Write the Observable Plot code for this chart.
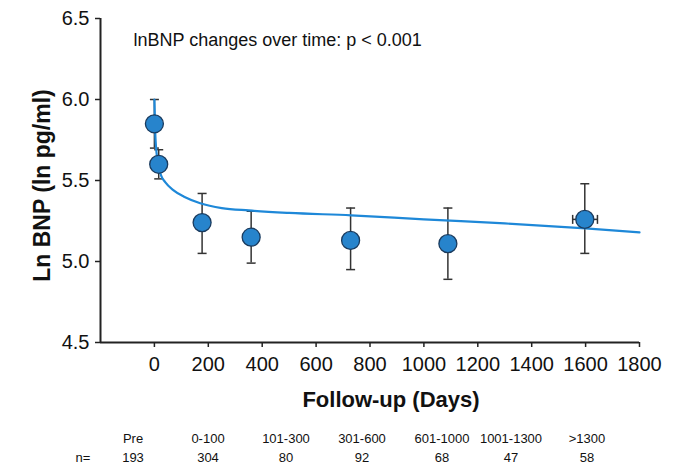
<!DOCTYPE html>
<html><head><meta charset="utf-8">
<script src="https://cdn.jsdelivr.net/npm/d3@7"></script>
<script src="https://cdn.jsdelivr.net/npm/@observablehq/plot@0.6"></script>
<style>
body{margin:0;background:#fff;font-family:"Liberation Sans",Arial,sans-serif;}
#chart{width:675px;}
#chart svg{display:block;}
#table{position:relative;height:52px;width:675px;font-size:13px;color:#111;}
#table span{position:absolute;transform:translate(-50%,-50%);white-space:nowrap;}
</style></head><body><div id="chart"></div><div id="table"></div>
<script>
// ---- data ----
const groups = ["Pre", "0-100", "101-300", "301-600", "601-1000", "1001-1300", ">1300"];
const counts = [193, 304, 80, 92, 68, 47, 58];
const days = [0, 16, 177, 359, 728, 1089, 1597];
const means = [5.85, 5.60, 5.24, 5.15, 5.13, 5.11, 5.26];
const lower = [5.70, 5.51, 5.05, 4.99, 4.95, 4.89, 5.05];
const upper = [6.00, 5.69, 5.42, 5.31, 5.33, 5.33, 5.48];
const daysLow = [null, null, null, null, null, null, 1552];
const daysHigh = [null, null, null, null, null, null, 1644];
const fitDays = [0, 3, 8, 15, 25, 40, 70, 110, 170, 250, 350, 500, 730, 1000, 1300, 1600, 1800];
const fitValues = [6.00, 5.80, 5.67, 5.59, 5.53, 5.49, 5.44, 5.40, 5.36, 5.33, 5.315, 5.30, 5.285, 5.26, 5.235, 5.205, 5.18];
const xTicks = [0, 200, 400, 600, 800, 1000, 1200, 1400, 1600, 1800];
const yTicks = [4.5, 5.0, 5.5, 6.0, 6.5];
const xDomain = [-200, 1800];
const yDomain = [4.5, 6.5];
const annotation = "lnBNP changes over time: p < 0.001";
const yTitle = "Ln BNP (ln pg/ml)";
const xTitle = "Follow-up (Days)";
const nLabel = "n=";

// ---- build ----
const points = groups.map((g, i) => ({group: g, n: counts[i], day: days[i], mean: means[i], lo: lower[i], hi: upper[i], dLo: daysLow[i], dHi: daysHigh[i]}));
const fit = fitDays.map((d, i) => ({day: d, value: fitValues[i]}));
const hBars = points.filter(d => d.dLo != null);

const hCap = {draw(ctx, size) { const r = Math.sqrt(size / Math.PI); ctx.moveTo(-r, 0); ctx.lineTo(r, 0); }};
const vCap = {draw(ctx, size) { const r = Math.sqrt(size / Math.PI); ctx.moveTo(0, -r); ctx.lineTo(0, r); }};
const barColor = "#333";

const chart = Plot.plot({
  width: 675,
  height: 412,
  marginLeft: 100,
  marginRight: 36,
  marginTop: 18,
  marginBottom: 70,
  style: {fontFamily: "'Liberation Sans', Arial, sans-serif", color: "#111", background: "#fff"},
  x: {domain: xDomain},
  y: {domain: yDomain},
  marks: [
    Plot.axisX({ticks: xTicks, tickFormat: d3.format("d"), tickSize: 5, tickPadding: 9, fontSize: 20, label: null, stroke: "#222", strokeWidth: 1.5}),
    Plot.axisY({ticks: yTicks, tickFormat: d3.format(".1f"), tickSize: 5, tickPadding: 6, fontSize: 20, label: null, stroke: "#222", strokeWidth: 1.5}),
    Plot.ruleY([yDomain[0]], {stroke: "#222", strokeWidth: 2}),
    Plot.ruleX([xDomain[0]], {stroke: "#222", strokeWidth: 2}),
    // error bars
    Plot.ruleX(points, {x: "day", y1: "lo", y2: "hi", stroke: barColor, strokeWidth: 1.5}),
    Plot.dot(points, {x: "day", y: "lo", symbol: hCap, r: 4.5, stroke: barColor, strokeWidth: 1.5, fill: "none"}),
    Plot.dot(points, {x: "day", y: "hi", symbol: hCap, r: 4.5, stroke: barColor, strokeWidth: 1.5, fill: "none"}),
    Plot.ruleY(hBars, {y: "mean", x1: "dLo", x2: "dHi", stroke: barColor, strokeWidth: 1.5}),
    Plot.dot(hBars, {x: "dLo", y: "mean", symbol: vCap, r: 4.5, stroke: barColor, strokeWidth: 1.5, fill: "none"}),
    Plot.dot(hBars, {x: "dHi", y: "mean", symbol: vCap, r: 4.5, stroke: barColor, strokeWidth: 1.5, fill: "none"}),
    // fitted curve
    Plot.line(fit, {x: "day", y: "value", stroke: "#1e88d8", strokeWidth: 2.2, curve: "monotone-x"}),
    // means
    Plot.dot(points, {x: "day", y: "mean", r: 9, fill: "#2784cc", stroke: "#1a3b5e", strokeWidth: 1.3}),
    // texts
    Plot.text([annotation], {frameAnchor: "top-left", dx: 33, dy: 22, textAnchor: "start", lineAnchor: "middle", fontSize: 18, fill: "#111"}),
    Plot.text([yTitle], {frameAnchor: "left", rotate: -90, dx: -58, dy: 5, textAnchor: "middle", lineAnchor: "middle", fontSize: 23, fontWeight: "bold", fill: "#111"}),
    Plot.text([xTitle], {frameAnchor: "bottom", dx: 21, dy: 57, textAnchor: "middle", lineAnchor: "middle", fontSize: 22, fontWeight: "bold", fill: "#111"})
  ]
});
document.getElementById("chart").appendChild(chart);

// ---- count table below the plot ----
const colCenters = [133, 208, 286, 362, 442, 511, 587];
const rowTop = 26, rowBottom = 45, nLeft = 83;
const table = document.getElementById("table");
function addSpan(text, left, top) {
  const s = document.createElement("span");
  s.textContent = text;
  s.style.left = left + "px";
  s.style.top = top + "px";
  table.appendChild(s);
}
groups.forEach((g, i) => addSpan(g, colCenters[i], rowTop));
addSpan(nLabel, nLeft, rowBottom);
counts.forEach((c, i) => addSpan(String(c), colCenters[i], rowBottom));
</script>
</body></html>
